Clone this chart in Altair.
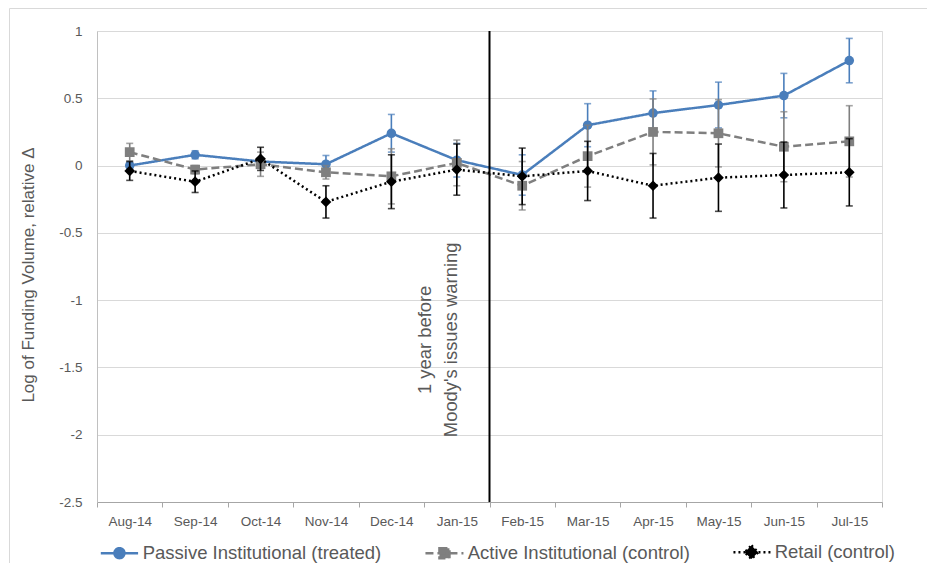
import altair as alt
import pandas as pd

months = ["Aug-14", "Sep-14", "Oct-14", "Nov-14", "Dec-14", "Jan-15",
          "Feb-15", "Mar-15", "Apr-15", "May-15", "Jun-15", "Jul-15"]
series_names = ["Passive Institutional (treated)", "Active Institutional (control)", "Retail (control)"]

passive = [0.00, 0.08, 0.03, 0.01, 0.24, 0.04, -0.07, 0.30, 0.39, 0.45, 0.52, 0.78]
passive_err = [0.02, 0.03, 0.02, 0.065, 0.14, 0.125, 0.15, 0.16, 0.165, 0.17, 0.165, 0.165]
active = [0.10, -0.03, 0.01, -0.05, -0.08, 0.02, -0.15, 0.07, 0.25, 0.24, 0.14, 0.18]
active_err = [0.065, 0.03, 0.09, 0.05, 0.205, 0.17, 0.18, 0.23, 0.245, 0.25, 0.26, 0.265]
retail = [-0.04, -0.12, 0.05, -0.27, -0.12, -0.03, -0.08, -0.04, -0.15, -0.09, -0.07, -0.05]
retail_err = [0.07, 0.08, 0.086, 0.12, 0.2, 0.19, 0.21, 0.22, 0.24, 0.25, 0.245, 0.25]

y_ticks = [1, 0.5, 0, -0.5, -1, -1.5, -2, -2.5]
event_month = "Feb-15"
note_month = "Jan-15"
note_value = -1.295
note_text = "1 year before\nMoody's issues warning"

colors = ["#4a7ebb", "#7f7f7f", "#000000"]
dashes = [[1, 0], [8, 4], [2, 3]]
shapes = ["circle", "square", "diamond"]
marker_sizes = [90, 95, 115]
legend_paths = [
    "M-3.73,0H3.73M-1,0A1,1,0,1,0,1,0A1,1,0,1,0,-1,0Z",
    "M-3.8,0H3.8M-1,-1H1V1H-1Z",
    "M-3.6,0H4M0,-1.35L1.35,0L0,1.35L-1.35,0Z",
]

FONT = "Liberation Sans"
TXT = "#595959"
W, H = 785, 471

rows = []
for name, vals, errs in zip(series_names, [passive, active, retail], [passive_err, active_err, retail_err]):
    for m, v, e in zip(months, vals, errs):
        rows.append({"month": m, "series": name, "value": v, "lo": v - e, "hi": v + e})
df = pd.DataFrame(rows)

x_scale = alt.Scale(type="band", paddingInner=0, paddingOuter=0)
x_axis = alt.Axis(tickBand="extent", domainColor="#a6a6a6", tickColor="#a6a6a6", tickSize=5,
                  labelPadding=7, labelFontSize=13.5, labelColor=TXT, labelFont=FONT,
                  grid=False, labelAngle=0)
y_scale = alt.Scale(domain=[-2.5, 1], nice=False, zero=False)
y_axis = alt.Axis(values=y_ticks, labelExpr="'' + datum.value", ticks=False, tickSize=0,
                  domainColor="#c0c0c0", gridColor="#d9d9d9", grid=True,
                  labelPadding=15, labelFontSize=13.5, labelColor=TXT, labelFont=FONT,
                  titleFontSize=17, titleFont=FONT, titleColor=TXT, titleFontWeight="normal",
                  titlePadding=21, titleY=243.5)
Y_TITLE = "Log of Funding Volume, relative Δ"


def xe(**kw):
    return alt.X("month:N", sort=months, scale=x_scale, axis=x_axis, title=None, **kw)


def ye(field):
    return alt.Y(field, scale=y_scale, axis=y_axis, title=Y_TITLE)


base = alt.Chart(df)
layers = []
for name, col, dash, shp, msz in zip(series_names, colors, dashes, shapes, marker_sizes):
    s = base.transform_filter(alt.datum.series == name)
    layers.append(s.mark_rule(strokeWidth=1.6).encode(x=xe(), y=ye("lo:Q"), y2="hi:Q",
                                                      color=alt.value(col)))
    layers.append(s.mark_tick(size=7, thickness=1.6).encode(x=xe(), y=ye("lo:Q"), color=alt.value(col)))
    layers.append(s.mark_tick(size=7, thickness=1.6).encode(x=xe(), y=ye("hi:Q"), color=alt.value(col)))
    layers.append(s.mark_line(strokeWidth=2.5, strokeDash=dash).encode(x=xe(), y=ye("value:Q"),
                                                                       color=alt.value(col)))
    layers.append(s.mark_point(filled=True, opacity=1, shape=shp, size=msz).encode(
        x=xe(), y=ye("value:Q"), color=alt.value(col)))

vline = alt.Chart(pd.DataFrame({"month": [event_month]})).mark_rule(color="black", strokeWidth=2).encode(
    x=xe(bandPosition=0), y=alt.datum(1), y2=alt.datum(-2.5))

note = alt.Chart(pd.DataFrame({"month": [note_month], "v": [note_value], "t": [note_text]})).mark_text(
    angle=270, align="center", baseline="middle", dy=-32, lineHeight=26.7, fontSize=18.4,
    color=TXT, font=FONT, lineBreak="\n").encode(x=xe(), y=ye("v:Q"), text="t:N")

leg = alt.Legend(title=None, orient="none", legendX=13.2, legendY=512, direction="horizontal",
                 labelFont=FONT, labelFontSize=18.5, labelColor=TXT, symbolSize=100,
                 symbolStrokeWidth=2.5, labelOffset=14, columnPadding=38, padding=0,
                 symbolOpacity=1, labelLimit=400)
legend_layer = base.transform_filter("false").mark_point(filled=True, size=100, strokeWidth=2.5).encode(
    x=xe(), y=ye("value:Q"),
    color=alt.Color("series:N", scale=alt.Scale(domain=series_names, range=colors), legend=leg),
    stroke=alt.Stroke("series:N", scale=alt.Scale(domain=series_names, range=colors), legend=leg),
    shape=alt.Shape("series:N", scale=alt.Scale(domain=series_names, range=legend_paths), legend=leg),
    strokeDash=alt.StrokeDash("series:N", scale=alt.Scale(domain=series_names, range=dashes), legend=leg),
)

frame_data = alt.Data(values=[{}])
frame_left = alt.Chart(frame_data).mark_rule(color="#d9d9d9", strokeWidth=1).encode(
    x=alt.value(-87.5), y=alt.value(-22.5), y2=alt.value(540))
frame_top = alt.Chart(frame_data).mark_rule(color="#d9d9d9", strokeWidth=1).encode(
    x=alt.value(-87.5), x2=alt.value(840), y=alt.value(-22.5))

chart = alt.layer(frame_left, frame_top, *layers, vline, note, legend_layer).properties(
    width=W, height=H,
    autosize=alt.AutoSizeParams(type="none"),
    padding={"left": 89, "top": 23, "right": 45, "bottom": 61},
).configure_view(strokeWidth=0).configure(font=FONT)

chart.save("out.html", embed_options={"renderer": "svg", "actions": False})
